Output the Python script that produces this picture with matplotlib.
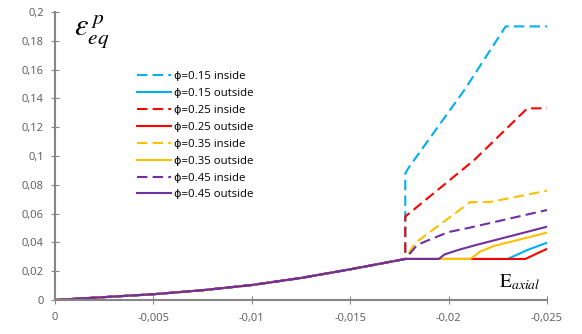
import matplotlib
matplotlib.use("Agg")
import matplotlib.pyplot as plt
from matplotlib.ticker import FuncFormatter

# shared loading path (all cases identical up to the jump)
base_strain = [0, -0.001, -0.0025, -0.005, -0.0075, -0.01, -0.0125, -0.015, -0.0178]
base_eps = [0, 0.0008, 0.002, 0.004, 0.0068, 0.0104, 0.0153, 0.0213, 0.0285]

# branches after the jump, per porosity
in15_x = [-0.0178, -0.0180, -0.0208, -0.0229, -0.025]
in15_y = [0.088, 0.0925, 0.1458, 0.19, 0.19]
out15_x = [-0.0230, -0.0240, -0.025]
out15_y = [0.0285, 0.0347, 0.0398]

in25_x = [-0.0178, -0.0180, -0.0213, -0.0240, -0.025]
in25_y = [0.058, 0.0602, 0.0972, 0.1331, 0.1331]
out25_x = [-0.0239, -0.0245, -0.025]
out25_y = [0.0285, 0.0324, 0.0355]

in35_x = [-0.01805, -0.0183, -0.0211, -0.0221, -0.025]
in35_y = [0.034, 0.0396, 0.068, 0.068, 0.0759]
out35_x = [-0.0211, -0.0216, -0.0223, -0.025]
out35_y = [0.0285, 0.0336, 0.0375, 0.0468]

in45_x = [-0.0184, -0.0190, -0.0200, -0.0210, -0.025]
in45_y = [0.0382, 0.0417, 0.0472, 0.050, 0.0625]
out45_x = [-0.0195, -0.0198, -0.0206, -0.0214, -0.025]
out45_y = [0.0285, 0.0317, 0.0352, 0.0382, 0.0509]

labels = ["ϕ=0.15 inside", "ϕ=0.15 outside", "ϕ=0.25 inside", "ϕ=0.25 outside",
          "ϕ=0.35 inside", "ϕ=0.35 outside", "ϕ=0.45 inside", "ϕ=0.45 outside"]
colors = ["#00B0F0", "#FF0000", "#FFC000", "#7030A0"]

inside = [(in15_x, in15_y), (in25_x, in25_y), (in35_x, in35_y), (in45_x, in45_y)]
outside = [(out15_x, out15_y), (out25_x, out25_y), (out35_x, out35_y), (out45_x, out45_y)]

fig = plt.figure(figsize=(5.82, 3.34), dpi=100)
ax = fig.add_axes([55 / 582, 34 / 334, 492 / 582, 288 / 334])

lw = 1.5
for i, c in enumerate(colors):
    xi, yi = inside[i]
    xo, yo = outside[i]
    ax.plot(base_strain + xi, base_eps + yi, color=c, lw=lw, dashes=(5, 2.5),
            label=labels[2 * i])
    ax.plot(base_strain + xo, base_eps + yo, color=c, lw=lw, label=labels[2 * i + 1])

ax.set_xlim(0, -0.025)
ax.set_ylim(0, 0.2)
ax.set_xticks([0, -0.005, -0.01, -0.015, -0.02, -0.025])
ax.set_yticks([0, 0.02, 0.04, 0.06, 0.08, 0.1, 0.12, 0.14, 0.16, 0.18, 0.2])


def comma_fmt(v, pos):
    s = ("%.3f" % v).rstrip("0").rstrip(".")
    if s in ("-0", ""):
        s = "0"
    return s.replace(".", ",")


ax.xaxis.set_major_formatter(FuncFormatter(comma_fmt))
ax.yaxis.set_major_formatter(FuncFormatter(comma_fmt))

for side in ["top", "right"]:
    ax.spines[side].set_visible(False)
for side in ["left", "bottom"]:
    ax.spines[side].set_color("#868686")
    ax.spines[side].set_linewidth(1.5)
ax.tick_params(direction="inout", length=6, width=0.8, color="#868686",
               labelcolor="#595959", labelsize=8)
ax.tick_params(axis="x", pad=6)
ax.tick_params(axis="y", pad=5)
for t in ax.get_xticklabels() + ax.get_yticklabels():
    t.set_family(["Open Sans", "DejaVu Sans"])

# axis titles placed inside the plot area, like the original
plt.rcParams["mathtext.fontset"] = "stix"
fig.text(74 / 582, 0.965, r"$\varepsilon_{eq}^{\,p}$", fontsize=22, va="top", ha="left")
fig.text(499 / 582, 42 / 334, r"$\mathrm{E}_{axial}$", fontsize=14, va="bottom", ha="left")

ax.legend(loc="upper left", bbox_to_anchor=(137 / 582, 1 - 71 / 334),
          bbox_transform=fig.transFigure, frameon=False,
          prop={"family": ["Open Sans", "DejaVu Sans"], "size": 8.2},
          handlelength=3.0, handletextpad=0.25, labelspacing=0.52,
          borderaxespad=0, borderpad=0)

fig.savefig("out.png", dpi=100)
